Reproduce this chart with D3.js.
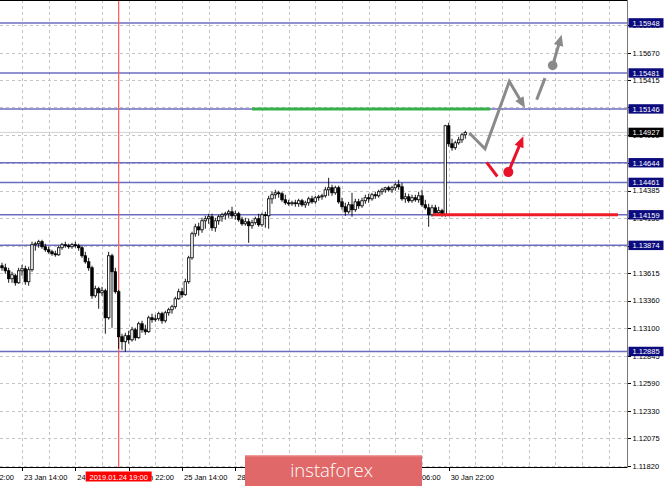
<!DOCTYPE html>
<html><head><meta charset="utf-8">
<script src="https://cdn.jsdelivr.net/npm/d3@7"></script>
<style>html,body{margin:0;padding:0;background:#fff;overflow:hidden;} svg{display:block;}</style>
</head><body>
<script>
// ---- DATA (EURUSD H1) ----
const opens=[1.13684,1.13665,1.13637,1.13563,1.13591,1.13525,1.13637,1.13656,1.13535,1.13647,
1.1388,1.13889,1.13908,1.13861,1.13833,1.13814,1.13796,1.13786,1.13852,1.1388,
1.1387,1.13861,1.1388,1.1387,1.13852,1.13777,1.13721,1.13665,1.13404,1.1347,
1.13432,1.13451,1.13199,1.13777,1.13628,1.13442,1.13022,1.12976,1.13032,1.12994,
1.13087,1.13013,1.13143,1.13087,1.13069,1.13199,1.13181,1.1319,1.13237,1.13171,
1.13246,1.13274,1.13302,1.13376,1.13442,1.13414,1.13535,1.13758,1.13982,1.14047,
1.14019,1.14103,1.14122,1.14141,1.14038,1.14103,1.14141,1.14159,1.14169,1.14187,
1.1415,1.14169,1.14113,1.14075,1.14094,1.14057,1.14085,1.14122,1.14066,1.14159,
1.1415,1.14308,1.14346,1.14364,1.14355,1.14299,1.14271,1.14262,1.14271,1.14262,
1.1429,1.14252,1.14271,1.14308,1.1428,1.14318,1.14327,1.14336,1.14392,1.14411,
1.14364,1.14411,1.1428,1.14234,1.14187,1.14252,1.14206,1.1428,1.14243,1.1429,
1.14318,1.14308,1.14346,1.14336,1.14374,1.14392,1.14411,1.14392,1.14411,1.14439,
1.1442,1.14308,1.14327,1.1429,1.14318,1.14299,1.14336,1.14252,1.14224,1.14159,
1.14224,1.14178,1.14197,1.14159,1.14989,1.14821,1.14784,1.1483,1.14858,1.14905];
const highs=[1.13712,1.13703,1.13665,1.13628,1.13609,1.13665,1.13693,1.13684,1.13675,1.13908,
1.13908,1.13926,1.13926,1.13889,1.13861,1.13833,1.13824,1.1387,1.13898,1.13908,
1.13889,1.13898,1.13908,1.13889,1.1387,1.13814,1.13758,1.13684,1.13498,1.13488,
1.13488,1.1347,1.13814,1.13796,1.13665,1.1346,1.1305,1.13059,1.13078,1.13115,
1.13106,1.13162,1.13171,1.13134,1.13218,1.13237,1.13227,1.13255,1.13255,1.13265,
1.13292,1.1332,1.13395,1.1347,1.13479,1.13563,1.13777,1.14001,1.14075,1.14085,
1.14131,1.1415,1.14169,1.14169,1.14131,1.14159,1.14178,1.14187,1.14206,1.14234,
1.14197,1.14187,1.14141,1.14131,1.14122,1.14113,1.14141,1.14169,1.14178,1.14187,
1.14336,1.14374,1.14392,1.14383,1.14374,1.14346,1.14299,1.1429,1.14299,1.14308,
1.14308,1.1429,1.14327,1.14336,1.14336,1.14346,1.14355,1.1442,1.14504,1.14439,
1.1443,1.1443,1.14318,1.14271,1.1428,1.14364,1.14308,1.14308,1.14318,1.14346,
1.14355,1.14364,1.14374,1.14392,1.14411,1.1442,1.1443,1.1443,1.14457,1.14485,
1.14457,1.14364,1.14355,1.14346,1.14346,1.14374,1.14392,1.14299,1.14262,1.14252,
1.14252,1.14234,1.14215,1.14998,1.15017,1.14868,1.14849,1.14886,1.14923,1.14942];
const lows=[1.13637,1.13609,1.13525,1.13525,1.13498,1.13516,1.13591,1.13507,1.13498,1.13628,
1.13824,1.13852,1.13842,1.13814,1.13796,1.13777,1.13768,1.13777,1.13833,1.13852,
1.13842,1.13842,1.13852,1.13824,1.13758,1.13703,1.13637,1.13376,1.13386,1.13283,
1.13404,1.1305,1.13181,1.13106,1.13423,1.1291,1.12901,1.12882,1.12957,1.12976,
1.12985,1.13004,1.13059,1.13041,1.13059,1.13153,1.13162,1.13171,1.13143,1.13153,
1.13218,1.13237,1.13283,1.13367,1.13386,1.13404,1.13516,1.1374,1.13954,1.13964,
1.13991,1.14029,1.14075,1.1401,1.14001,1.14066,1.14094,1.14113,1.14131,1.14122,
1.14113,1.14094,1.14057,1.14057,1.13898,1.14029,1.14066,1.14047,1.14047,1.14038,
1.14029,1.14262,1.14308,1.14318,1.1428,1.14252,1.14243,1.14243,1.14234,1.14234,
1.14234,1.14224,1.14243,1.14262,1.14262,1.1429,1.14299,1.14318,1.14336,1.14336,
1.14346,1.14262,1.14206,1.1415,1.14169,1.14141,1.14187,1.14215,1.14224,1.14262,
1.14271,1.1429,1.14308,1.14318,1.14346,1.14364,1.14374,1.14364,1.14383,1.14392,
1.1429,1.14271,1.14271,1.14271,1.1428,1.14271,1.14234,1.14206,1.14047,1.14141,
1.1415,1.1415,1.14141,1.14141,1.14793,1.14756,1.14765,1.14812,1.1483,1.14868];
const closes=[1.13665,1.13637,1.13563,1.136,1.13525,1.13637,1.13656,1.13535,1.13647,1.1388,
1.13889,1.13908,1.13861,1.13833,1.13814,1.13796,1.13786,1.13852,1.1388,1.1387,
1.13861,1.1388,1.1387,1.13852,1.13777,1.13721,1.13665,1.13404,1.1347,1.13432,
1.13451,1.13199,1.13777,1.13628,1.13442,1.13022,1.12976,1.13032,1.12994,1.13087,
1.13013,1.13143,1.13087,1.13069,1.13199,1.13181,1.1319,1.13237,1.13171,1.13246,
1.13274,1.13302,1.13376,1.13442,1.13414,1.13535,1.13758,1.13982,1.14047,1.14019,
1.14103,1.14122,1.14141,1.14038,1.14103,1.14141,1.14159,1.14169,1.14187,1.1415,
1.14169,1.14113,1.14075,1.14094,1.14057,1.14085,1.14122,1.14066,1.14159,1.1415,
1.14308,1.14346,1.14364,1.14355,1.14299,1.14271,1.14262,1.14271,1.14262,1.1429,
1.14252,1.14271,1.14308,1.1428,1.14318,1.14327,1.14336,1.14392,1.14411,1.14364,
1.14411,1.1428,1.14234,1.14187,1.14252,1.14206,1.1428,1.14243,1.1429,1.14318,
1.14308,1.14346,1.14336,1.14374,1.14392,1.14411,1.14392,1.14411,1.14439,1.1442,
1.14308,1.14327,1.1429,1.14318,1.14299,1.14336,1.14252,1.14224,1.14159,1.14224,
1.14178,1.14197,1.14159,1.14989,1.14821,1.14784,1.1483,1.14858,1.14905,1.14927];

const priceTicks=[1.11820,1.12075,1.12330,1.12590,1.12845,1.13100,1.13360,1.13615,1.13870,1.14130,1.14385,1.14645,1.14900,1.15160,1.15415,1.15670,1.15925];
const levels=[1.15948,1.15481,1.15146,1.14644,1.14461,1.14159,1.13874,1.12885];
const lastPrice=1.14927;
const timeTickIndex=[-10,6,22,38,54,70,86,102,118,134];
const timeTickLabels=["22 Jan 22:00","23 Jan 14:00","24 Jan 06:00","24 Jan 22:00","25 Jan 14:00","28 Jan 06:00","28 Jan 22:00","29 Jan 14:00","30 Jan 06:00","30 Jan 22:00"];
const markerIndex=35, markerLabel="2019.01.24 19:00";
// annotations (bar index, price)
const greenLevel={from:75,to:146.5,price:1.15146};
const redLevel={from:129.3,to:184.8,price:1.14159};
const grayPath=[[140.2,1.14921],[144.9,1.14774],[152.2,1.15402],[156.9,1.15154]];
const grayDash=[[160.4,1.15231],[162.9,1.15433]];
const grayDot=[165.2,1.15551];
const grayArrow=[[165.2,1.15551],[167.9,1.15837]];
const redSeg=[[145.4,1.14647],[148.6,1.14516]];
const redDot=[151.9,1.14557];
const redArrow=[[151.9,1.14557],[156.4,1.14890]];

// ---- LAYOUT ----
const W=665,H=486, plotR=627, plotB=467;
const x=d3.scaleLinear().domain([0,187.5]).range([2,627]);
const y=d3.scaleLinear().domain([1.11820,1.15670]).range([465.7,52.7]);
const fmt=d3.format(".5f");
const FONT="'Liberation Sans', Arial, sans-serif";

const svg=d3.select("body").append("svg").attr("width",W).attr("height",H);
const defs=svg.append("defs");
defs.append("clipPath").attr("id","plot").append("rect").attr("x",0).attr("y",0).attr("width",plotR).attr("height",plotB);

const plot=svg.append("g").attr("clip-path","url(#plot)");

// grid
const vGrid=d3.range(-2,190,8);
plot.selectAll("line.vg").data(vGrid).join("line")
 .attr("x1",d=>Math.round(x(d))+0.5).attr("x2",d=>Math.round(x(d))+0.5).attr("y1",0).attr("y2",plotB)
 .attr("stroke","#c4c4c4").attr("stroke-dasharray","3,3").attr("stroke-width",1);
plot.selectAll("line.hg").data(priceTicks).join("line")
 .attr("x1",0).attr("x2",plotR).attr("y1",d=>Math.round(y(d))+0.5).attr("y2",d=>Math.round(y(d))+0.5)
 .attr("stroke","#c4c4c4").attr("stroke-dasharray","3,3").attr("stroke-width",1);

// bid line
plot.append("line").attr("x1",0).attr("x2",plotR).attr("y1",y(lastPrice)).attr("y2",y(lastPrice))
 .attr("stroke","#d0d0d0").attr("stroke-width",1);

// levels
plot.selectAll("line.lv").data(levels).join("line")
 .attr("x1",0).attr("x2",plotR).attr("y1",d=>y(d)).attr("y2",d=>y(d))
 .attr("stroke","#6c6cbf").attr("stroke-width",1.5);

// red vertical marker
plot.append("line").attr("x1",x(markerIndex)).attr("x2",x(markerIndex)).attr("y1",0).attr("y2",plotB)
 .attr("stroke","#ff5555").attr("stroke-width",1.2);

// candles
const idx=d3.range(opens.length);
const cg=plot.append("g");
cg.selectAll("line.w").data(idx).join("line")
 .attr("x1",i=>x(i)).attr("x2",i=>x(i)).attr("y1",i=>y(highs[i])).attr("y2",i=>y(lows[i]))
 .attr("stroke","#000").attr("stroke-width",0.9);
cg.selectAll("rect.b").data(idx).join("rect")
 .attr("x",i=>x(i)-1.25).attr("width",2.5)
 .attr("y",i=>y(Math.max(opens[i],closes[i])))
 .attr("height",i=>Math.max(0.8,Math.abs(y(opens[i])-y(closes[i]))))
 .attr("fill",i=>closes[i]>=opens[i]?"#fff":"#000")
 .attr("stroke","#000").attr("stroke-width",0.8);

// annotations
plot.append("line").attr("x1",x(greenLevel.from)).attr("x2",x(greenLevel.to))
 .attr("y1",y(greenLevel.price)).attr("y2",y(greenLevel.price)).attr("stroke","#35b04a").attr("stroke-width",3);
plot.append("line").attr("x1",x(redLevel.from)).attr("x2",x(redLevel.to))
 .attr("y1",y(redLevel.price)).attr("y2",y(redLevel.price)).attr("stroke","#ee1c25").attr("stroke-width",3);

const P=d=>[x(d[0]),y(d[1])];
function arrowLine(pts,color,w){
  const pp=pts.map(P);
  const n=pp.length, a=pp[n-2], b=pp[n-1];
  const dx=b[0]-a[0], dy=b[1]-a[1], L=Math.hypot(dx,dy), ux=dx/L, uy=dy/L;
  const hl=11, hw=4.8;
  const base=[b[0]-ux*hl,b[1]-uy*hl];
  const line=pp.slice(0,n-1).concat([[b[0]-ux*(hl-2),b[1]-uy*(hl-2)]]);
  plot.append("path").attr("d",d3.line()(line)).attr("fill","none").attr("stroke",color)
   .attr("stroke-width",w).attr("stroke-linejoin","miter");
  plot.append("path").attr("d",d3.line()([b,[base[0]-uy*hw,base[1]+ux*hw],[base[0]+uy*hw,base[1]-ux*hw]])+"Z")
   .attr("fill",color);
}
const GRAY="#8a8a8a", RED="#e8132b";
arrowLine(grayPath,GRAY,3);
plot.append("path").attr("d",d3.line()(grayDash.map(P))).attr("stroke",GRAY).attr("stroke-width",3).attr("fill","none");
arrowLine(grayArrow,GRAY,3);
plot.append("circle").attr("cx",x(grayDot[0])).attr("cy",y(grayDot[1])).attr("r",4.8).attr("fill",GRAY);
plot.append("path").attr("d",d3.line()(redSeg.map(P))).attr("stroke",RED).attr("stroke-width",3).attr("fill","none");
arrowLine(redArrow,RED,3);
plot.append("circle").attr("cx",x(redDot[0])).attr("cy",y(redDot[1])).attr("r",5).attr("fill",RED);

// frame
svg.append("line").attr("x1",0).attr("x2",plotR).attr("y1",0.5).attr("y2",0.5).attr("stroke","#000");
svg.append("line").attr("x1",0).attr("x2",plotR+0.5).attr("y1",plotB+0.5).attr("y2",plotB+0.5).attr("stroke","#000");
svg.append("line").attr("x1",plotR+0.5).attr("x2",plotR+0.5).attr("y1",0).attr("y2",plotB+0.5).attr("stroke","#777");

// right axis ticks + labels
const ra=svg.append("g");
ra.selectAll("line").data(priceTicks).join("line")
 .attr("x1",plotR+1).attr("x2",plotR+4).attr("y1",d=>Math.round(y(d))+0.5).attr("y2",d=>Math.round(y(d))+0.5).attr("stroke","#000");
ra.selectAll("text").data(priceTicks).join("text")
 .attr("x",plotR+5.5).attr("y",d=>y(d)+2.8).text(d=>fmt(d))
 .attr("font-family",FONT).attr("font-size",7.5).attr("fill","#000");

// level boxes
const lb=svg.append("g");
const boxes=levels.map(v=>({v,fill:"#0b0b7e"})).concat([{v:lastPrice,fill:"#000"}]);
lb.selectAll("rect").data(boxes).join("rect")
 .attr("x",plotR+1.5).attr("y",d=>y(d.v)-4.7).attr("width",35).attr("height",9.4).attr("fill",d=>d.fill);
lb.selectAll("text").data(boxes).join("text")
 .attr("x",plotR+5.5).attr("y",d=>y(d.v)+2.8).text(d=>fmt(d.v))
 .attr("font-family",FONT).attr("font-size",7.5).attr("fill","#fff");

// bottom axis
const ba=svg.append("g");
ba.selectAll("line").data(timeTickIndex).join("line")
 .attr("x1",d=>Math.round(x(d))+0.5).attr("x2",d=>Math.round(x(d))+0.5).attr("y1",plotB).attr("y2",plotB+4).attr("stroke","#000");
ba.selectAll("text").data(timeTickIndex).join("text")
 .attr("x",d=>x(d)+2).attr("y",480).text((d,i)=>timeTickLabels[i])
 .attr("font-family",FONT).attr("font-size",7.5).attr("fill","#000");

// marker label
const mx=x(markerIndex);
svg.append("rect").attr("x",mx-33).attr("y",471.5).attr("width",66).attr("height",10).attr("fill","#ff0000");
svg.append("text").attr("x",mx).attr("y",479.6).attr("text-anchor","middle").text(markerLabel)
 .attr("font-family",FONT).attr("font-size",7.5).attr("fill","#fff");

// watermark banner
svg.append("rect").attr("x",245).attr("y",455.5).attr("width",177).attr("height",31).attr("fill","#e06868");
svg.append("rect").attr("x",245).attr("y",455.5).attr("width",177).attr("height",1).attr("fill","#ea8a8a");
svg.append("text").attr("x",331.5).attr("y",477).attr("text-anchor","middle").text("instaforex")
 .attr("font-family","'Open Sans', sans-serif").attr("font-weight",300).attr("font-size",18.5).attr("fill","#fff");
</script>
</body></html>
